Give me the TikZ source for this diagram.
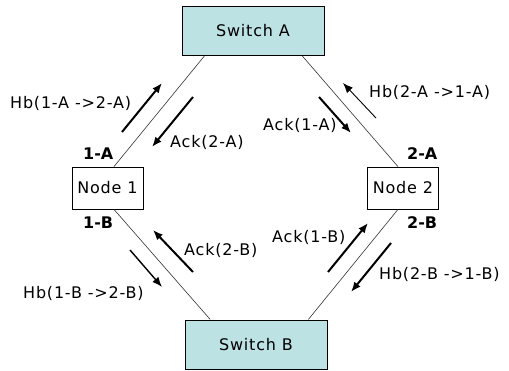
\documentclass[tikz,border=0pt]{standalone}
\usepackage{fontspec}
\setmainfont{DejaVu Sans}
\newfontfamily\labelfont[LetterSpace=5]{DejaVu Sans}
\usetikzlibrary{arrows.meta,calc}
\definecolor{switchfill}{RGB}{188,226,228}
\begin{document}
\begin{tikzpicture}[x=1pt,y=-1pt,
  every node/.style={font=\fontsize{16}{19}\selectfont\labelfont},
  switchbox/.style={draw=black,line width=1pt,fill=switchfill,minimum width=142pt,minimum height=49pt,inner sep=0pt},
  hostbox/.style={draw=black,line width=0.8pt,fill=white,minimum width=71pt,minimum height=42pt,inner sep=0pt},
  link/.style={draw=black!80,line width=0.6pt},
  msg/.style={line width=2pt,-{Latex[length=10pt,width=8pt]}},
  msgthin/.style={line width=0.9pt,-{Latex[length=10pt,width=8pt]}},
  msgmid/.style={line width=1.4pt,-{Latex[length=10pt,width=8pt]}},
  txt/.style={anchor=west,inner sep=0pt},
  port/.style={anchor=west,inner sep=0pt,font=\fontsize{16}{19}\selectfont\bfseries}]
\useasboundingbox (0,0) rectangle (509,370);

% devices
\node[switchbox] (swa) at (253,31) {Switch A};
\node[switchbox] (swb) at (256,344.5) {Switch B};
\node[hostbox] (n1) at (107.5,188) {Node 1};
\node[hostbox] (n2) at (403,188) {Node 2};

% links
\draw[link] ($(n1.north west)!0.59!(n1.north east)$) -- ($(swa.south west)!0.16!(swa.south east)$);
\draw[link] ($(swa.south west)!0.845!(swa.south east)$) -- ($(n2.north west)!0.43!(n2.north east)$);
\draw[link] ($(n1.south west)!0.59!(n1.south east)$) -- ($(swb.north west)!0.18!(swb.north east)$);
\draw[link] ($(n2.south west)!0.43!(n2.south east)$) -- ($(swb.north west)!0.866!(swb.north east)$);

% messages on the A side
\draw[msg] (122,132) -- (162,83);
\draw[msg] (193,97) -- (152,147);
\draw[msgthin] (376,118) -- (343,83);
\draw[msg] (319,97) -- (351,133);

% messages on the B side
\draw[msg] (193,272) -- (153,230);
\draw[msgmid] (130,250) -- (162,287);
\draw[msg] (328,272) -- (368,223);
\draw[msg] (391,243) -- (351,292);

% message labels
\node[txt] (l1) at (10,103) {Hb(1-A ->2-A)};
\node[txt] (l2) at (170,142) {Ack(2-A)};
\node[txt] (l3) at (369,92) {Hb(2-A ->1-A)};
\node[txt] (l4) at (263,125) {Ack(1-A)};
\node[txt] (l5) at (184,250) {Ack(2-B)};
\node[txt] (l6) at (23,293) {Hb(1-B ->2-B)};
\node[txt] (l7) at (272,237) {Ack(1-B)};
\node[txt] (l8) at (379,274) {Hb(2-B ->1-B)};

% port labels
\node[port] (p1a) at (83,154) {1-A};
\node[port] (p2a) at (407,154) {2-A};
\node[port] (p1b) at (83,223) {1-B};
\node[port] (p2b) at (407,223) {2-B};
\end{tikzpicture}
\end{document}
